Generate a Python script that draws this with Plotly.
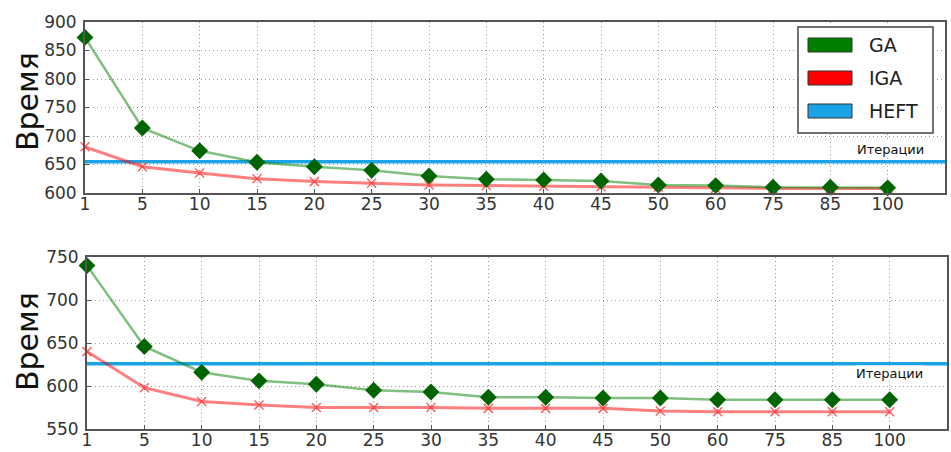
import plotly.graph_objects as go

# Iteration labels shown on the x axis (evenly spaced categories)
iterations = ["1", "5", "10", "15", "20", "25", "30", "35", "40", "45", "50", "60", "75", "85", "100"]

# Upper panel
ga_top = [873, 714, 674, 654, 646, 640, 630, 624, 623, 621, 614, 613, 610, 610, 609]
iga_top = [681, 646, 635, 625, 620, 617, 614, 613, 612, 611, 610, 608, 608, 608, 608]
heft_top = 655

# Lower panel
ga_bottom = [740, 646, 616, 606, 602, 595, 593, 587, 587, 586, 586, 584, 584, 584, 584]
iga_bottom = [640, 598, 582, 578, 575, 575, 575, 574, 574, 574, 571, 570, 570, 570, 570]
heft_bottom = 626

series_names = ["GA", "IGA", "HEFT"]
series_colors = ["#008000", "#ff0000", "#1aa3e6"]

W, H = 951, 452
FONT = "DejaVu Sans"


def px(x):
    return x / W


def py(y):
    return 1 - y / H


xi = list(range(len(iterations)))
fig = go.Figure()

panels = [
    (ga_top, iga_top, heft_top, "x", "y"),
    (ga_bottom, iga_bottom, heft_bottom, "x2", "y2"),
]
for ga, iga, heft, xa, ya in panels:
    fig.add_trace(go.Scatter(
        x=xi, y=iga, xaxis=xa, yaxis=ya, mode="lines+markers", showlegend=False,
        line=dict(color="rgba(255,0,0,0.5)", width=3),
        marker=dict(symbol="x-thin", size=9, color="rgba(255,60,60,0.8)",
                    line=dict(width=1.5, color="rgba(255,60,60,0.8)")),
        cliponaxis=False,
    ))
    fig.add_trace(go.Scatter(
        x=xi, y=ga, xaxis=xa, yaxis=ya, mode="lines+markers", showlegend=False,
        line=dict(color="rgba(0,128,0,0.5)", width=2.5),
        marker=dict(symbol="diamond", size=13, color="#006400"),
        cliponaxis=False,
    ))
    # HEFT reference level across the full panel width
    fig.add_shape(type="line", xref=xa + " domain", yref=ya, x0=0, x1=1, y0=heft, y1=heft,
                  line=dict(color=series_colors[2], width=3.5), layer="below")

axis_common = dict(
    showline=True, mirror=True, linecolor="#555555", linewidth=2,
    showgrid=True, gridcolor="#999999", griddash="1px,3px", gridwidth=1.2,
    ticks="inside", ticklen=4, tickcolor="#555555",
    tickfont=dict(family=FONT, size=17, color="#333333"),
    zeroline=False, automargin=False,
)

fig.update_layout(
    width=W, height=H,
    margin=dict(l=0, r=0, t=0, b=0, autoexpand=False),
    paper_bgcolor="white", plot_bgcolor="white",
    showlegend=False,
    xaxis=dict(domain=[px(85), px(945)], range=[0, 15], tickvals=xi, ticktext=iterations,
               anchor="y", ticklabelstandoff=-5, **axis_common),
    yaxis=dict(domain=[py(193), py(22)], range=[600, 900], tickvals=list(range(600, 901, 50)),
               anchor="x", ticklabelstandoff=3, **axis_common),
    xaxis2=dict(domain=[px(87), px(947)], range=[0, 15], tickvals=xi, ticktext=iterations,
                anchor="y2", ticklabelstandoff=-5, **axis_common),
    yaxis2=dict(domain=[py(429), py(257)], range=[550, 750], tickvals=list(range(550, 751, 50)),
                anchor="x2", ticklabelstandoff=3, **axis_common),
)

# Y titles
for yc in (102, 342):
    fig.add_annotation(text="Время", xref="paper", yref="paper", x=px(27), y=py(yc),
                       xanchor="center", yanchor="middle",
                       textangle=-90, showarrow=False,
                       font=dict(family=FONT, size=30, color="#111111"))

# "Итерации" captions near the right edge of each panel
for xc, yc in ((890, 149), (889, 373)):
    fig.add_annotation(text="Итерации", xref="paper", yref="paper", x=px(xc), y=py(yc),
                       xanchor="center", yanchor="middle",
                       showarrow=False, bgcolor="white", borderpad=0,
                       font=dict(family=FONT, size=13, color="#111111"))

# Legend box with colour patches
fig.add_shape(type="rect", xref="paper", yref="paper",
              x0=px(798), x1=px(933), y0=py(133), y1=py(27),
              line=dict(color="#444444", width=1.5), fillcolor="white", layer="above")
for i, (name, col) in enumerate(zip(series_names, series_colors)):
    cy = 45 + i * 33
    fig.add_shape(type="rect", xref="paper", yref="paper",
                  x0=px(808), x1=px(852), y0=py(cy + 7), y1=py(cy - 7),
                  line=dict(color="#333333", width=1), fillcolor=col, layer="above")
    fig.add_annotation(text=name, xref="paper", yref="paper", x=px(867), y=py(cy),
                       xanchor="left", yanchor="middle", showarrow=False,
                       font=dict(family=FONT, size=19, color="#222222"))

fig.write_html("out.html")
